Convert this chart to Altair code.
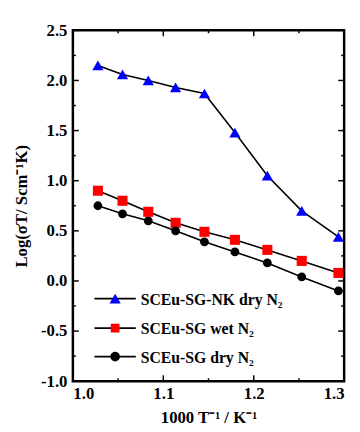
import altair as alt
import pandas as pd

inv_t = [1.0277, 1.0549, 1.0834, 1.1136, 1.1455, 1.1792, 1.2151, 1.2531, 1.2937]
nk_dry = [2.15, 2.06, 2.00, 1.93, 1.87, 1.48, 1.05, 0.70, 0.44]
sg_wet = [0.90, 0.80, 0.69, 0.58, 0.49, 0.41, 0.31, 0.20, 0.08]
sg_dry = [0.75, 0.67, 0.60, 0.50, 0.39, 0.29, 0.18, 0.04, -0.10]

series_names = ["SCEu-SG-NK dry N\u2082", "SCEu-SG wet N\u2082", "SCEu-SG dry N\u2082"]
series_colors = ["#0000FF", "#FF0000", "#000000"]
series_shapes = ["triangle-up", "square", "circle"]
series_sizes = [130, 80, 95]

x_major = [1.0, 1.1, 1.2, 1.3]
x_minor = [1.05, 1.15, 1.25]
y_major = [-1.0, -0.5, 0.0, 0.5, 1.0, 1.5, 2.0, 2.5]
y_minor = [-0.75, -0.25, 0.25, 0.75, 1.25, 1.75, 2.25]

X_MIN, X_MAX = 1.0, 1.3
Y_MIN, Y_MAX = -1.0, 2.5
W, H = 276, 357
FONT = "Liberation Serif"

rows = []
for name, vals in zip(series_names, [nk_dry, sg_wet, sg_dry]):
    for xv, yv in zip(inv_t, vals):
        rows.append({"kind": "data", "x": xv, "y": yv, "series": name})
for v in x_major:
    rows.append({"kind": "xmaj", "x": v, "y": None, "series": None})
for v in x_minor:
    rows.append({"kind": "xmin", "x": v, "y": None, "series": None})
for v in y_major:
    rows.append({"kind": "ymaj", "x": None, "y": v, "series": None})
for v in y_minor:
    rows.append({"kind": "ymin", "x": None, "y": v, "series": None})
df = pd.DataFrame(rows)

xs = alt.Scale(domain=[X_MIN, X_MAX], nice=False, zero=False)
ys = alt.Scale(domain=[Y_MIN, Y_MAX], nice=False, zero=False)

lbl_expr = "datum.value < 0 ? '-' + format(-datum.value, '.1f') : format(datum.value, '.1f')"
label_axis_common = dict(ticks=False, domain=False, grid=False, labelExpr=lbl_expr,
                         labelFont=FONT, labelFontWeight="bold", labelFontSize=17, labelColor="black",
                         titleFont=FONT, titleFontWeight="bold", titleFontSize=17, titleColor="black")

base = alt.Chart(df)
data_base = base.transform_filter("datum.kind == 'data'")

lines = data_base.mark_line(color="black", strokeWidth=1.6).encode(
    x=alt.X("x:Q", scale=xs, axis=alt.Axis(orient="bottom", values=x_major, title="1000 T\u207b\u00b9 / K\u207b\u00b9",
                                           labelPadding=5, titlePadding=8, **label_axis_common)),
    y=alt.Y("y:Q", scale=ys, axis=alt.Axis(orient="left", values=y_major, title="Log(\u03c3T/ Scm\u207b\u00b9K)",
                                           labelPadding=6, titlePadding=10, **label_axis_common)),
    detail="series:N",
)

points = data_base.mark_point(filled=True, opacity=1).encode(
    x=alt.X("x:Q", scale=xs),
    y=alt.Y("y:Q", scale=ys),
    color=alt.Color("series:N", scale=alt.Scale(domain=series_names, range=series_colors), legend=None),
    shape=alt.Shape("series:N", scale=alt.Scale(domain=series_names, range=series_shapes), legend=None),
    size=alt.Size("series:N", scale=alt.Scale(domain=series_names, range=series_sizes), legend=None),
)

# inward ticks drawn as line-shaped symbols anchored on the frame edges
tick_layers = []
for kind, sz in [("xmaj", 144), ("xmin", 36)]:
    for edge, path in [(Y_MIN, "M0,0V-1"), (Y_MAX, "M0,0V1")]:
        tick_layers.append(base.transform_filter(f"datum.kind == '{kind}'").transform_calculate(
            ye=str(edge)).mark_point(shape=path, filled=False, color="black", strokeWidth=1.5,
                                     size=sz, opacity=1).encode(
            x=alt.X("x:Q", scale=xs), y=alt.Y("ye:Q", scale=ys)))
for kind, sz in [("ymaj", 144), ("ymin", 36)]:
    for edge, path in [(X_MIN, "M0,0H1"), (X_MAX, "M0,0H-1")]:
        tick_layers.append(base.transform_filter(f"datum.kind == '{kind}'").transform_calculate(
            xe=str(edge)).mark_point(shape=path, filled=False, color="black", strokeWidth=1.5,
                                     size=sz, opacity=1).encode(
            y=alt.Y("y:Q", scale=ys), x=alt.X("xe:Q", scale=xs)))

legend_layers = []
leg_y = [273, 303, 332]
for name, col, shp, sz, yy in zip(series_names, series_colors, series_shapes, series_sizes, leg_y):
    ldf = pd.DataFrame({"label": [name]})
    lb = alt.Chart(ldf)
    legend_layers.append(lb.mark_rule(color="black", strokeWidth=1.6).encode(
        x=alt.value(22), x2=alt.value(64), y=alt.value(yy)))
    legend_layers.append(lb.mark_point(filled=True, opacity=1, color=col, shape=shp, size=sz).encode(
        x=alt.value(43), y=alt.value(yy)))
    legend_layers.append(lb.mark_text(align="left", baseline="middle", font=FONT, fontWeight="bold",
                                      fontSize=16, color="black").encode(
        x=alt.value(69), y=alt.value(yy + 1), text="label:N"))

chart = alt.layer(lines, points, *tick_layers, *legend_layers).properties(
    width=W, height=H, background="white",
    padding={"left": 5, "top": 10, "right": 5, "bottom": 5}
).configure_view(stroke="black", strokeWidth=2.5)

chart.save("out.html", embed_options={"renderer": "svg", "actions": False})
